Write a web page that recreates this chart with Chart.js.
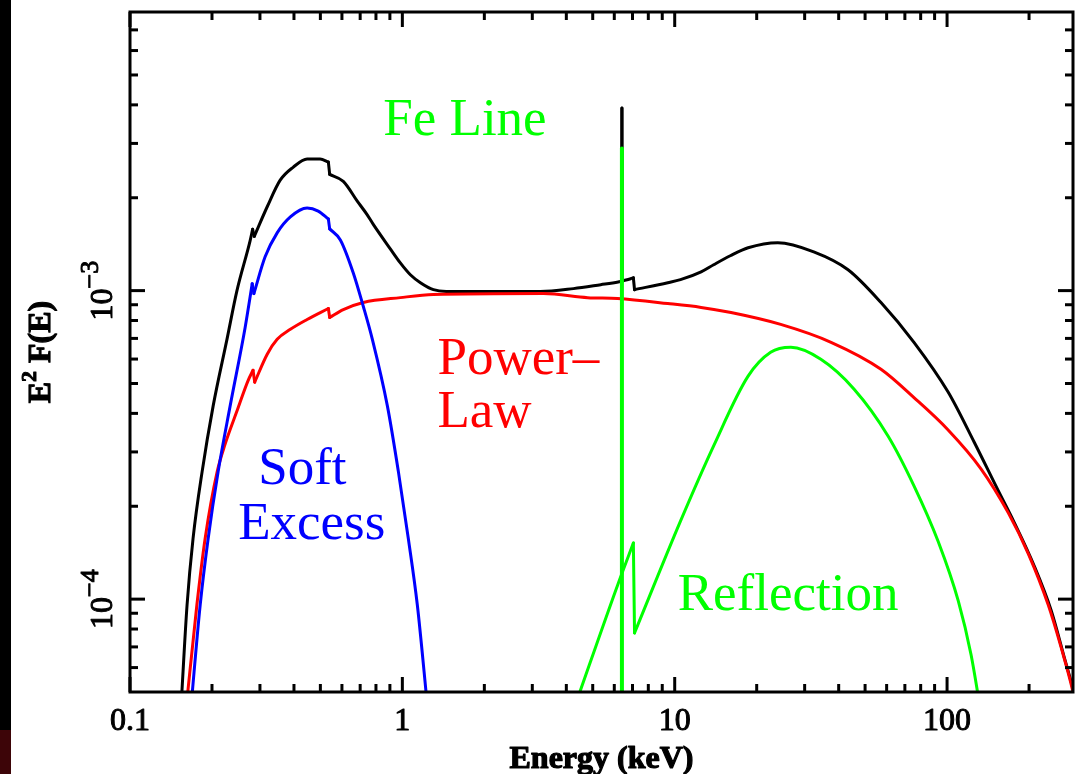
<!DOCTYPE html>
<html>
<head>
<meta charset="utf-8">
<script src="https://cdn.jsdelivr.net/npm/chart.js@4.4.1/dist/chart.umd.min.js"></script>
<style>
  html, body { margin: 0; padding: 0; background: #fff; }
  #wrap { width: 1088px; height: 774px; position: relative; }
</style>
</head>
<body>
<div id="wrap"><canvas id="spec"></canvas></div>
<script>
// Energy (keV) and E^2 F(E), one pair of arrays per component
const totalE = [0.154, 0.162, 0.1704, 0.184, 0.202, 0.227, 0.247, 0.276, 0.282, 0.286, 0.319, 0.356, 0.397, 0.447, 0.499, 0.535, 0.541, 0.607, 0.683, 0.74, 0.782, 0.903, 0.983, 1.07, 1.165, 1.30, 1.45, 3.21, 4.25, 5.35, 6.2, 6.4, 6.4, 6.4, 6.89, 7.05, 7.12, 9.43, 10.5, 12.5, 13.9, 16.0, 18.6, 23.9, 32.4, 43.3, 57.2, 75.6, 100.9, 125.7, 154, 176, 209, 241, 269, 290, 300];
const totalF = [4.5e-5, 9.57e-5, 1.57e-4, 2.59e-4, 4.23e-4, 6.95e-4, 1.0e-3, 1.45e-3, 1.58e-3, 1.50e-3, 1.87e-3, 2.28e-3, 2.51e-3, 2.67e-3, 2.67e-3, 2.61e-3, 2.38e-3, 2.26e-3, 1.95e-3, 1.77e-3, 1.64e-3, 1.366e-3, 1.23e-3, 1.126e-3, 1.061e-3, 1.007e-3, 0.994e-3, 0.993e-3, 1.015e-3, 1.045e-3, 1.066e-3, 1.072e-3, 3.91e-3, 1.075e-3, 1.093e-3, 1.10e-3, 1.007e-3, 1.061e-3, 1.085e-3, 1.15e-3, 1.213e-3, 1.297e-3, 1.377e-3, 1.43e-3, 1.336e-3, 1.169e-3, 9.15e-4, 6.80e-4, 4.69e-4, 3.23e-4, 2.25e-4, 1.78e-4, 1.28e-4, 9.2e-5, 6.5e-5, 5.1e-5, 4.4e-5];

const powerE = [0.161, 0.176, 0.1887, 0.209, 0.2235, 0.247, 0.2716, 0.283, 0.287, 0.319, 0.347, 0.388, 0.447, 0.535, 0.541, 0.607, 0.719, 0.983, 1.30, 3.30, 4.79, 6.17, 9.43, 12.5, 16.1, 24.5, 37.5, 57.2, 75.6, 100.9, 133, 168, 199, 235, 262, 290, 300];
const powerF = [4.5e-5, 9.57e-5, 1.57e-4, 2.59e-4, 3.18e-4, 4.07e-4, 5.12e-4, 5.52e-4, 5.05e-4, 6.22e-4, 6.95e-4, 7.49e-4, 8.06e-4, 8.75e-4, 8.18e-4, 8.68e-4, 9.15e-4, 9.49e-4, 9.71e-4, 9.78e-4, 9.49e-4, 9.42e-4, 9.08e-4, 8.82e-4, 8.49e-4, 7.77e-4, 6.80e-4, 5.56e-4, 4.50e-4, 3.535e-4, 2.65e-4, 1.90e-4, 1.40e-4, 9.6e-5, 7.0e-5, 5.0e-5, 4.3e-5];

const softE = [0.1676, 0.181, 0.1936, 0.2107, 0.2332, 0.2647, 0.281, 0.285, 0.3134, 0.347, 0.388, 0.447, 0.491, 0.535, 0.541, 0.592, 0.66, 0.719, 0.776, 0.881, 0.967, 1.052, 1.135, 1.236];
const softF = [4.5e-5, 9.57e-5, 1.57e-4, 2.59e-4, 4.23e-4, 7.6e-4, 1.053e-3, 9.78e-4, 1.287e-3, 1.539e-3, 1.733e-3, 1.852e-3, 1.81e-3, 1.707e-3, 1.585e-3, 1.46e-3, 1.143e-3, 8.88e-4, 6.95e-4, 4.23e-4, 2.59e-4, 1.57e-4, 9.57e-5, 4.5e-5];

const reflE = [4.3, 6.17, 7.05, 7.12, 10.5, 13.9, 18.6, 22.5, 26.7, 34.4, 45.5, 60.7, 75.6, 92.7, 110, 122.5, 132];
const reflF = [4.5e-5, 1.11e-4, 1.52e-4, 7.77e-5, 1.79e-4, 3.14e-4, 5.28e-4, 6.31e-4, 6.55e-4, 5.99e-4, 4.80e-4, 3.38e-4, 2.33e-4, 1.54e-4, 9.85e-5, 6.60e-5, 4.5e-5];

const lineE = [6.4, 6.4];
const lineF = [4.0e-5, 2.89e-3];

// axes
const xMin = 0.1, xMax = 290;
const yMin = 5e-5, yMax = 8e-3;
const xTickValues = [0.1, 1, 10, 100];
const xTickLabels = ['0.1', '1', '10', '100'];
const yTickValues = [1e-4, 1e-3];
const yTickExps = ['\u22124', '\u22123'];

// text in the plot, anchored at (energy, flux) = left/baseline
const notes = [
    { text: 'Fe Line', color: '#00ff00', e: 0.851, f: 3.19e-3 },
    { text: 'Power\u2013', color: '#ff0000', e: 1.345, f: 5.36e-4 },
    { text: 'Law', color: '#ff0000', e: 1.345, f: 3.61e-4 },
    { text: 'Soft', color: '#0000ff', e: 0.2955, f: 2.37e-4 },
    { text: 'Excess', color: '#0000ff', e: 0.2495, f: 1.57e-4 },
    { text: 'Reflection', color: '#00ff00', e: 10.26, f: 9.21e-5 }
];

const SERIF = '"Liberation Serif", "Times New Roman", serif';

// absorption edges are near-vertical steps; keep them as their own straight pieces
// so the smoothing does not round them off
const EDGE_STEP = 1.02;
const splitAtEdges = (xs, ys) => {
    const pieces = [];
    let cur = [{ x: xs[0], y: ys[0] }];
    for (let i = 1; i < xs.length; i++) {
        const p = { x: xs[i], y: ys[i] };
        if (xs[i] / xs[i - 1] < EDGE_STEP) {
            if (cur.length > 1) pieces.push(cur);
            pieces.push([{ x: xs[i - 1], y: ys[i - 1] }, p]);
            cur = [p];
        } else {
            cur.push(p);
        }
    }
    if (cur.length > 1) pieces.push(cur);
    return pieces;
};

// minor ticks for a log axis between lo and hi
const minorTicks = (lo, hi) => {
    const out = [];
    for (let d = Math.floor(Math.log10(lo)); d <= Math.ceil(Math.log10(hi)); d++) {
        for (let k = 2; k <= 9; k++) {
            const v = k * Math.pow(10, d);
            if (v > lo * 1.0001 && v < hi * 0.9999) out.push(v);
        }
    }
    return out;
};

const heavyText = (ctx, text, x, y, w) => {
    ctx.fillText(text, x, y);
    ctx.lineWidth = w;
    ctx.strokeText(text, x, y);
};

const pgFrame = {
    id: 'pgFrame',
    beforeDraw(chart) {
        const ctx = chart.ctx;
        ctx.save();
        ctx.fillStyle = '#ffffff';
        ctx.fillRect(0, 0, chart.width, chart.height);
        // dark strip at the left edge of the screenshot
        ctx.fillStyle = '#000000';
        ctx.fillRect(0, 0, 11, chart.height);
        ctx.fillStyle = '#3d0508';
        ctx.fillRect(0, 730, 11, chart.height - 730);
        ctx.restore();
    },
    afterDatasetsDraw(chart) {
        const ctx = chart.ctx;
        const a = chart.chartArea;
        const xs = chart.scales.x, ys = chart.scales.y;
        ctx.save();
        ctx.strokeStyle = '#000';
        ctx.lineWidth = 3;
        ctx.lineCap = 'butt';
        ctx.strokeRect(a.left, a.top, a.right - a.left, a.bottom - a.top);

        const tick = (x1, y1, x2, y2) => { ctx.beginPath(); ctx.moveTo(x1, y1); ctx.lineTo(x2, y2); ctx.stroke(); };
        const MAJ = 15, MIN = 8;
        xTickValues.forEach(v => {
            const p = xs.getPixelForValue(v);
            tick(p, a.bottom, p, a.bottom - MAJ);
            tick(p, a.top, p, a.top + MAJ);
        });
        minorTicks(xMin, xMax).forEach(v => {
            const p = xs.getPixelForValue(v);
            tick(p, a.bottom, p, a.bottom - MIN);
            tick(p, a.top, p, a.top + MIN);
        });
        yTickValues.forEach(v => {
            const p = ys.getPixelForValue(v);
            tick(a.left, p, a.left + MAJ, p);
            tick(a.right, p, a.right - MAJ, p);
        });
        minorTicks(yMin, yMax).forEach(v => {
            const p = ys.getPixelForValue(v);
            tick(a.left, p, a.left + MIN, p);
            tick(a.right, p, a.right - MIN, p);
        });

        // tick labels
        ctx.fillStyle = '#000';
        ctx.strokeStyle = '#000';
        ctx.lineJoin = 'round';
        ctx.textBaseline = 'alphabetic';
        ctx.font = '32px ' + SERIF;
        ctx.textAlign = 'center';
        xTickValues.forEach((v, i) => {
            heavyText(ctx, xTickLabels[i], xs.getPixelForValue(v), 730, 1);
        });
        yTickValues.forEach((v, i) => {
            const p = ys.getPixelForValue(v);
            ctx.save();
            ctx.translate(112, p);
            ctx.rotate(-Math.PI / 2);
            ctx.textAlign = 'left';
            ctx.font = '32px ' + SERIF;
            const w1 = ctx.measureText('10').width;
            ctx.font = '26px ' + SERIF;
            const w2 = ctx.measureText(yTickExps[i]).width;
            const x0 = -(w1 + w2) / 2;
            ctx.font = '32px ' + SERIF;
            heavyText(ctx, '10', x0, 0, 1);
            ctx.font = '26px ' + SERIF;
            heavyText(ctx, yTickExps[i], x0 + w1, -14, 1);
            ctx.restore();
        });

        // axis titles
        ctx.font = 'bold 32px ' + SERIF;
        ctx.textAlign = 'center';
        heavyText(ctx, 'Energy (keV)', (a.left + a.right) / 2, 768, 1.2);

        ctx.save();
        ctx.translate(50, (a.top + a.bottom) / 2);
        ctx.rotate(-Math.PI / 2);
        ctx.textAlign = 'left';
        ctx.font = 'bold 32px ' + SERIF;
        const wE = ctx.measureText('E').width;
        const wRest = ctx.measureText(' F(E)').width;
        ctx.font = 'bold 22px ' + SERIF;
        const wSup = ctx.measureText('2').width;
        let x0 = -(wE + wSup + wRest) / 2;
        ctx.font = 'bold 32px ' + SERIF;
        heavyText(ctx, 'E', x0, 0, 1.2);
        ctx.font = 'bold 22px ' + SERIF;
        heavyText(ctx, '2', x0 + wE, -14, 1);
        ctx.font = 'bold 32px ' + SERIF;
        heavyText(ctx, ' F(E)', x0 + wE + wSup, 0, 1.2);
        ctx.restore();

        // component labels
        ctx.font = '53px ' + SERIF;
        ctx.textAlign = 'left';
        notes.forEach(n => {
            ctx.fillStyle = n.color;
            ctx.fillText(n.text, xs.getPixelForValue(n.e), ys.getPixelForValue(n.f));
        });
        ctx.restore();
    }
};

// top-most first: Chart.js paints the first dataset last
const series = [
    { label: 'Fe Line', xs: lineE, ys: lineF, color: '#00ff00', width: 4 },
    { label: 'Reflection', xs: reflE, ys: reflF, color: '#00ff00', width: 3 },
    { label: 'Soft Excess', xs: softE, ys: softF, color: '#0000ff', width: 3 },
    { label: 'Power-Law', xs: powerE, ys: powerF, color: '#ff0000', width: 3 },
    { label: 'Total', xs: totalE, ys: totalF, color: '#000000', width: 3 }
];

const datasets = [];
series.forEach(s => {
    splitAtEdges(s.xs, s.ys).forEach(piece => {
        datasets.push({
            label: s.label,
            data: piece,
            borderColor: s.color,
            backgroundColor: s.color,
            borderWidth: s.width,
            pointRadius: 0,
            cubicInterpolationMode: 'monotone',
            fill: false,
            borderJoinStyle: 'round',
            borderCapStyle: 'round'
        });
    });
});

new Chart(document.getElementById('spec'), {
    type: 'line',
    data: { datasets: datasets },
    options: {
        responsive: true,
        maintainAspectRatio: false,
        animation: false,
        layout: { padding: { left: 130, right: 15, top: 12, bottom: 82 } },
        plugins: { legend: { display: false }, tooltip: { enabled: false } },
        scales: {
            x: { type: 'logarithmic', min: xMin, max: xMax, display: false },
            y: { type: 'logarithmic', min: yMin, max: yMax, display: false }
        }
    },
    plugins: [pgFrame]
});
</script>
</body>
</html>
